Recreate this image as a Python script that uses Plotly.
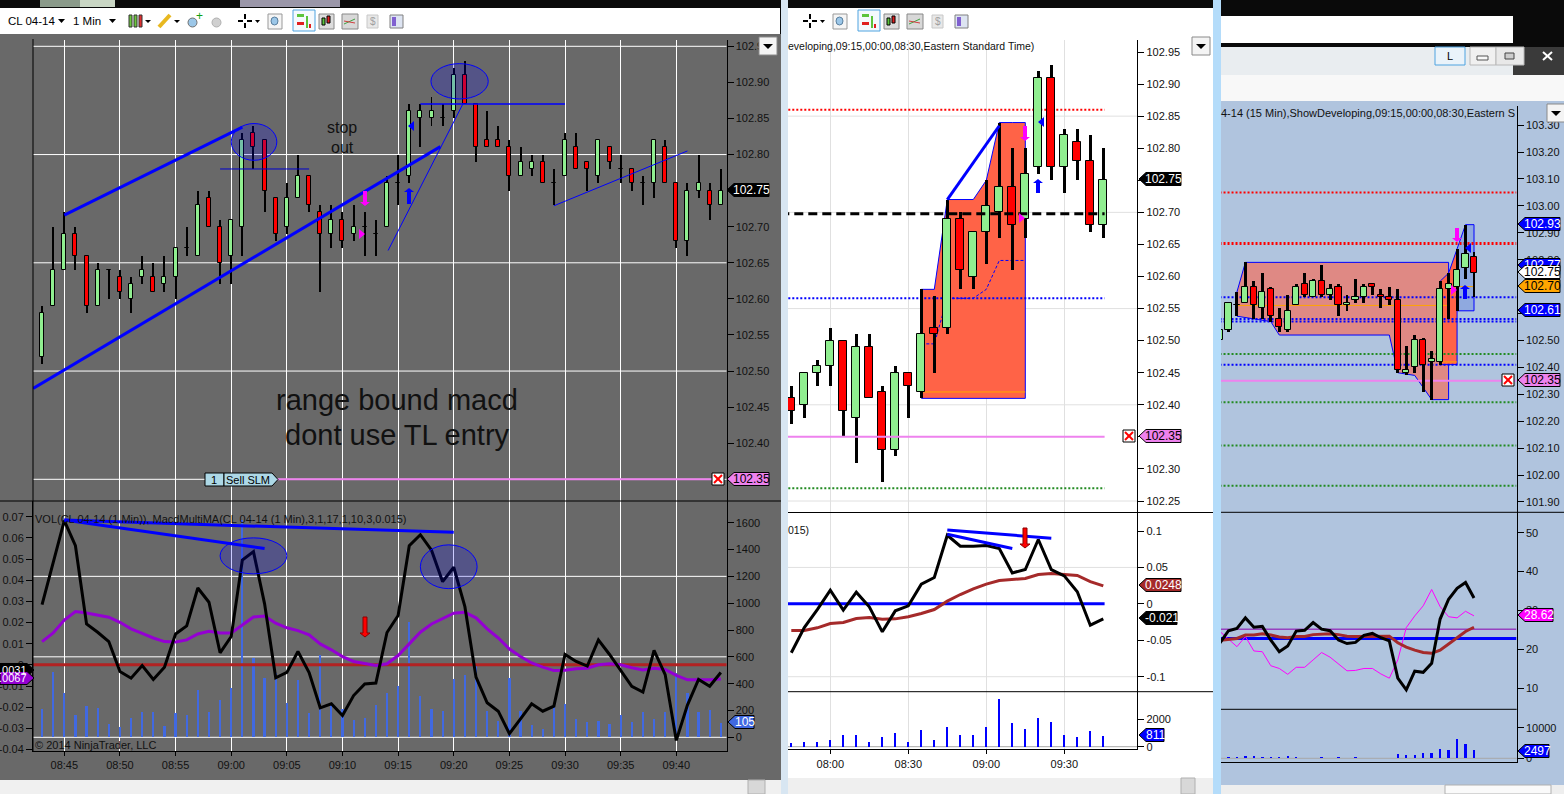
import plotly.graph_objects as go

W = 1564
H = 794
FONT = "Liberation Sans"

# left chart, 1 min bars from 08:43
left_minutes = list(range(523, 585))
left_open = [102.52, 102.59, 102.64, 102.69, 102.66, 102.59, 102.64, 102.63, 102.60, 102.63, 102.63, 102.62, 102.63, 102.67, 102.66, 102.74,
             102.70, 102.66, 102.70, 102.83, 102.82, 102.74, 102.70, 102.74, 102.77, 102.72, 102.69, 102.71, 102.69, 102.70, 102.69, 102.70,
             102.76, 102.77, 102.85, 102.85, 102.85, 102.86, 102.91, 102.87, 102.82, 102.82, 102.81, 102.77, 102.78, 102.79, 102.76, 102.77,
             102.81, 102.79, 102.77, 102.81, 102.78, 102.78, 102.76, 102.76, 102.81, 102.76, 102.68, 102.75, 102.75, 102.73]
left_high = [102.59, 102.70, 102.72, 102.70, 102.66, 102.65, 102.64, 102.64, 102.63, 102.66, 102.65, 102.66, 102.67, 102.70, 102.75, 102.75,
             102.71, 102.71, 102.83, 102.84, 102.82, 102.74, 102.76, 102.80, 102.77, 102.73, 102.73, 102.72, 102.73, 102.72, 102.71, 102.77,
             102.80, 102.87, 102.87, 102.88, 102.87, 102.92, 102.93, 102.87, 102.86, 102.84, 102.82, 102.81, 102.80, 102.80, 102.78, 102.83,
             102.83, 102.79, 102.82, 102.81, 102.80, 102.78, 102.77, 102.82, 102.82, 102.76, 102.76, 102.80, 102.76, 102.78]
left_low = [102.51, 102.59, 102.64, 102.64, 102.58, 102.59, 102.60, 102.60, 102.58, 102.62, 102.61, 102.61, 102.60, 102.66, 102.66, 102.70,
            102.62, 102.62, 102.66, 102.78, 102.72, 102.68, 102.69, 102.74, 102.72, 102.61, 102.67, 102.67, 102.68, 102.66, 102.66, 102.70,
            102.73, 102.76, 102.81, 102.84, 102.84, 102.85, 102.87, 102.79, 102.81, 102.81, 102.75, 102.77, 102.77, 102.76, 102.73, 102.77,
            102.78, 102.75, 102.76, 102.78, 102.76, 102.75, 102.73, 102.74, 102.76, 102.67, 102.66, 102.74, 102.71, 102.73]
left_close = [102.58, 102.64, 102.69, 102.66, 102.59, 102.64, 102.64, 102.61, 102.62, 102.64, 102.61, 102.63, 102.67, 102.67, 102.73, 102.70,
              102.65, 102.71, 102.82, 102.81, 102.75, 102.69, 102.74, 102.77, 102.73, 102.69, 102.71, 102.68, 102.70, 102.70, 102.69, 102.76,
              102.76, 102.86, 102.86, 102.86, 102.85, 102.91, 102.87, 102.81, 102.81, 102.81, 102.77, 102.79, 102.79, 102.76, 102.76, 102.82,
              102.78, 102.78, 102.82, 102.79, 102.78, 102.76, 102.76, 102.82, 102.76, 102.68, 102.75, 102.76, 102.73, 102.75]
left_volume = [209, 489, 328, 166, 233, 219, 99, 75, 142, 191, 191, 84, 179, 164, 353, 191, 278, 365, 1620, 594, 442, 477, 253, 427, 179, 611,
               253, 209, 129, 142, 241, 328, 383, 862, 308, 209, 199, 432, 462, 534, 199, 119, 442, 199, 89, 60, 224, 248, 134, 114, 119, 99,
               164, 114, 189, 134, 189, 477, 328, 189, 204, 105]
left_macd = [0.0285, 0.0484, 0.0681, 0.0563, 0.0193, 0.0154, 0.011, -0.0031, -0.0063, -0.0003, -0.0069, -0.0011, 0.0146, 0.0184, 0.0363, 0.0296,
             0.0057, 0.0134, 0.0495, 0.0535, 0.0288, -0.0061, -0.0036, 0.0063, -0.0036, -0.0203, -0.0184, -0.0239, -0.0145, -0.009, -0.0086,
             0.0153, 0.0233, 0.0563, 0.0615, 0.0542, 0.0393, 0.0461, 0.0275, -0.0058, -0.0179, -0.0219, -0.0325, -0.0255, -0.0184, -0.0219,
             -0.0195, 0.0049, 0.0016, -0.0006, 0.0118, 0.0049, -0.0027, -0.0102, -0.0129, 0.0068, -0.0046, -0.0357, -0.019, -0.0069, -0.0101, -0.0036]
left_signal = [0.011, 0.0151, 0.0212, 0.0252, 0.0245, 0.0236, 0.0225, 0.0201, 0.017, 0.0149, 0.0127, 0.011, 0.0108, 0.0118, 0.0146, 0.0159,
               0.0151, 0.0151, 0.019, 0.0226, 0.0231, 0.0197, 0.0175, 0.0162, 0.0142, 0.0099, 0.0071, 0.0039, 0.0016, 0.0006, -0.0003, 0.0005,
               0.0044, 0.0099, 0.0154, 0.0193, 0.0217, 0.0244, 0.0248, 0.0222, 0.017, 0.0127, 0.0075, 0.0039, 0.0009, -0.0011, -0.0027, -0.0025,
               -0.0019, -0.0016, 0.0, 0.0005, 0.0, -0.0014, -0.0024, -0.0016, -0.0022, -0.005, -0.0071, -0.0071, -0.0071, -0.0067]
left_time_ticks = [525, 530, 535, 540, 545, 550, 555, 560, 565, 570, 575, 580]
left_time_labels = ["08:45", "08:50", "08:55", "09:00", "09:05", "09:10", "09:15", "09:20", "09:25", "09:30", "09:35", "09:40"]
left_price_ticks = [102.95, 102.90, 102.85, 102.80, 102.75, 102.70, 102.65, 102.60, 102.55, 102.50, 102.45, 102.40, 102.35]
left_price_labels = ["102.95", "102.90", "102.85", "102.80", "102.75", "102.70", "102.65", "102.60", "102.55", "102.50", "102.45", "102.40", "102.35"]
left_price_grid = [102.95, 102.80, 102.65, 102.50, 102.35]
left_volume_ticks = [0, 200, 400, 600, 800, 1000, 1200, 1400, 1600]
left_volume_grid = [0, 600, 1200]
left_macd_ticks = [0.07, 0.06, 0.05, 0.04, 0.03, 0.02, 0.01, 0, -0.01, -0.02, -0.03, -0.04]
left_macd_labels = ["0.07", "0.06", "0.05", "0.04", "0.03", "0.02", "0.01", "0", "-0.01", "-0.02", "-0.03", "-0.04"]

# middle chart, 5 min bars from 07:45
mid_minutes = list(range(465, 590, 5))
mid_open = [102.41, 102.40, 102.45, 102.46, 102.50, 102.38, 102.49, 102.42, 102.33, 102.45, 102.42, 102.52, 102.52, 102.69, 102.60, 102.67,
            102.70, 102.74, 102.69, 102.77, 102.91, 102.77, 102.81, 102.78, 102.68]
mid_high = [102.43, 102.45, 102.47, 102.52, 102.50, 102.51, 102.51, 102.43, 102.46, 102.45, 102.58, 102.57, 102.72, 102.70, 102.67, 102.75,
            102.84, 102.80, 102.80, 102.92, 102.93, 102.83, 102.83, 102.82, 102.80]
mid_low = [102.37, 102.38, 102.43, 102.43, 102.35, 102.31, 102.41, 102.28, 102.32, 102.38, 102.41, 102.45, 102.51, 102.58, 102.58, 102.62,
           102.66, 102.61, 102.66, 102.76, 102.75, 102.73, 102.75, 102.67, 102.66]
mid_close = [102.39, 102.45, 102.46, 102.50, 102.39, 102.49, 102.41, 102.33, 102.45, 102.43, 102.51, 102.51, 102.69, 102.61, 102.67, 102.71,
             102.74, 102.68, 102.76, 102.91, 102.77, 102.82, 102.78, 102.68, 102.75]
mid_macd = [-0.0672, -0.0325, -0.0078, 0.0188, -0.0087, 0.016, -0.0041, -0.0384, -0.0096, -0.0027, 0.027, 0.0361, 0.0942, 0.0791, 0.0791, 0.08,
            0.0759, 0.0425, 0.0471, 0.0883, 0.0471, 0.0384, 0.0165, -0.0293, -0.0206]
mid_signal = [-0.0366, -0.0366, -0.0329, -0.027, -0.0256, -0.0201, -0.0188, -0.021, -0.0206, -0.0178, -0.0133, -0.0078, 0.0037, 0.0128, 0.0206,
              0.027, 0.032, 0.0334, 0.0348, 0.0403, 0.0416, 0.0403, 0.0389, 0.0306, 0.0247]
mid_volume = [265, 337, 337, 482, 843, 843, 337, 699, 988, 337, 1205, 482, 1422, 843, 843, 1422, 3446, 1711, 1277, 2072, 1783, 843, 699, 1133, 811]
mid_time_ticks = [480, 510, 540, 570]
mid_time_labels = ["08:00", "08:30", "09:00", "09:30"]
mid_price_ticks = [102.95, 102.90, 102.85, 102.80, 102.75, 102.70, 102.65, 102.60, 102.55, 102.50, 102.45, 102.40, 102.35, 102.30, 102.25]
mid_price_labels = ["102.95", "102.90", "102.85", "102.80", "102.75", "102.70", "102.65", "102.60", "102.55", "102.50", "102.45", "102.40", "102.35", "102.30", "102.25"]
mid_price_grid = [102.85, 102.70, 102.55, 102.40, 102.25]
mid_macd_ticks = [0.1, 0.05, 0, -0.05, -0.1]
mid_macd_labels = ["0.1", "0.05", "0", "-0.05", "-0.1"]
mid_macd_grid = [0.05, -0.1]
# developing value area
mid_va_x = [515, 520, 525, 530, 535, 540, 545, 550, 555, 555, 515]
mid_va_y = [102.58, 102.58, 102.72, 102.72, 102.72, 102.75, 102.84, 102.84, 102.84, 102.41, 102.41]
mid_poc_x = [515, 520, 525, 530, 535, 540, 545, 555]
mid_poc_y = [102.495, 102.495, 102.566, 102.566, 102.566, 102.58, 102.625, 102.625]

# right chart, 15 min bars
right_index = list(range(31))
right_open = [102.50, 102.54, 102.63, 102.64, 102.70, 102.62, 102.69, 102.58, 102.54, 102.63, 102.71, 102.66, 102.72, 102.67, 102.70, 102.63,
              102.65, 102.66, 102.71, 102.67, 102.66, 102.65, 102.38, 102.40, 102.50, 102.42, 102.42, 102.69, 102.70, 102.77, 102.81]
right_high = [102.56, 102.64, 102.68, 102.79, 102.72, 102.75, 102.70, 102.62, 102.67, 102.71, 102.75, 102.73, 102.78, 102.71, 102.71, 102.67,
              102.73, 102.71, 102.71, 102.69, 102.70, 102.69, 102.48, 102.52, 102.51, 102.46, 102.72, 102.75, 102.84, 102.93, 102.83]
right_low = [102.49, 102.53, 102.59, 102.64, 102.58, 102.58, 102.57, 102.53, 102.53, 102.63, 102.66, 102.66, 102.66, 102.65, 102.59, 102.61,
             102.64, 102.64, 102.67, 102.62, 102.63, 102.38, 102.37, 102.38, 102.31, 102.28, 102.41, 102.58, 102.61, 102.73, 102.66]
right_close = [102.54, 102.64, 102.63, 102.70, 102.63, 102.68, 102.59, 102.55, 102.61, 102.70, 102.67, 102.72, 102.67, 102.69, 102.63, 102.64,
               102.66, 102.70, 102.70, 102.66, 102.65, 102.39, 102.39, 102.50, 102.41, 102.43, 102.69, 102.71, 102.76, 102.82, 102.75]
right_macd = [21.7, 24.8, 25.4, 28.1, 25.7, 25.9, 22.4, 19.4, 20.9, 24.7, 24.9, 26.9, 25.2, 24.8, 22.4, 21.5, 21.8, 23.6, 24.1, 23.0, 22.2,
              12.6, 9.6, 14.4, 14.1, 16.4, 27.8, 32.9, 35.7, 37.2, 33.2]
right_signal = [22.3, 22.6, 22.8, 23.7, 23.7, 24.0, 23.7, 23.2, 23.0, 23.3, 23.3, 23.8, 23.9, 24.0, 23.8, 23.4, 23.3, 23.3, 23.3, 23.4, 23.4,
                21.7, 20.6, 19.8, 19.2, 19.0, 19.8, 21.4, 22.9, 24.6, 25.7]
right_thin = [24.6, 22.6, 20.7, 23.3, 19.6, 19.4, 15.8, 15.1, 13.6, 15.4, 15.4, 17.3, 19.2, 18.0, 16.2, 14.5, 14.6, 15.1, 15.1, 13.7, 12.6,
              17.3, 25.6, 28.6, 31.2, 35.4, 31.0, 28.4, 28.1, 29.8, 28.62]
right_volume = [0, 326, 326, 650, 650, 326, 326, 326, 650, 326, 0, 0, 326, 0, 326, 0, 326, 0, 0, 0, 0, 1413, 1087, 1087, 1739, 1739, 3043,
                2717, 6196, 4674, 2497]
right_price_ticks = [103.30, 103.20, 103.10, 103.00, 102.90, 102.80, 102.60, 102.50, 102.40, 102.30, 102.20, 102.10, 102.00, 101.90]
right_price_labels = ["103.30", "103.20", "103.10", "103.00", "102.90", "102.80", "102.60", "102.50", "102.40", "102.30", "102.20", "102.10", "102.00", "101.90"]
right_macd_ticks = [50, 40, 30, 20, 10]
right_va1_x = [2, 3, 27, 27, 25, 23, 21, 20, 7, 6, 4, 2]
right_va1_y = [102.68, 102.79, 102.79, 102.28, 102.28, 102.37, 102.38, 102.52, 102.52, 102.57, 102.58, 102.59]
right_va2_x = [26, 27, 28, 28, 26]
right_va2_y = [102.72, 102.75, 102.84, 102.41, 102.41]
right_va3_x = [28, 29, 30, 30, 28]
right_va3_y = [102.84, 102.93, 102.93, 102.61, 102.61]

BLUE = "#0000FF"
DIM = "#696969"
STEEL = "#B0C4DE"
GREEN = "#90EE90"
VIOLET = "#EE82EE"
TOMATO = "#FF6347"
BROWN = "#A52A2A"
TXT = "#111111"


def px(x):
    return x / W


def py(y):
    return 1 - y / H


def rng(a0, a1, v0, p0, v1, p1):
    # axis range so that value v0 lands on pixel p0 and v1 on p1
    k = (v1 - v0) / (p1 - p0)
    return [v0 + (a0 - p0) * k, v0 + (a1 - p0) * k]


shapes = []
notes = []


def rect(x0, y0, x1, y1, fill, line=None, layer="below"):
    shapes.append(dict(type="rect", xref="paper", yref="paper", x0=px(x0), x1=px(x1), y0=py(y1), y1=py(y0),
                       fillcolor=fill, line=dict(color=line or fill, width=1 if line else 0), layer=layer))


def poly(points, fill, line=None, width=1, layer="above"):
    path = "M" + " L".join(f"{px(a):.5f},{py(b):.5f}" for a, b in points) + " Z"
    shapes.append(dict(type="path", xref="paper", yref="paper", path=path, fillcolor=fill,
                       line=dict(color=line or fill, width=width if line else 0), layer=layer))


def seg(x0, y0, x1, y1, color="black", width=1, layer="above"):
    shapes.append(dict(type="line", xref="paper", yref="paper", x0=px(x0), x1=px(x1), y0=py(y0), y1=py(y1),
                       line=dict(color=color, width=width), layer=layer))


def label(x, y, text, size=11, color=TXT, anchor="left"):
    notes.append(dict(xref="paper", yref="paper", x=px(x), y=py(y), text=text, showarrow=False, xanchor=anchor,
                      yanchor="middle", font=dict(family=FONT, size=size, color=color), borderpad=0, borderwidth=0))


def tag(x0, x1, yc, text, fill, color="white", line="black", size=12, point="left"):
    h = 6.5
    if point == "left":
        pts = [(x0, yc), (x0 + 7, yc - h), (x1, yc - h), (x1, yc + h), (x0 + 7, yc + h)]
        mid = (x0 + 7 + x1) / 2
    else:
        pts = [(x0, yc - h), (x1 - 7, yc - h), (x1, yc), (x1 - 7, yc + h), (x0, yc + h)]
        mid = (x0 + x1 - 7) / 2
    poly(pts, fill, line, 1)
    label(mid, yc, text, size, color, "center")


def arrow(x, y0, y1, color, line=None):
    # block arrow running from y0 (tail) to y1 (head)
    s = 1 if y1 > y0 else -1
    poly([(x - 2, y0), (x + 2, y0), (x + 2, y1 - 4 * s), (x + 5, y1 - 4 * s), (x, y1), (x - 5, y1 - 4 * s), (x - 2, y1 - 4 * s)], color, line)


def tri(x, y, color, way):
    poly([(x + 3 * way, y), (x - 3 * way, y - 5), (x - 3 * way, y + 5)], color)


def x_box(x, y):
    rect(x - 6, y - 6, x + 6, y + 6, "white", "black", "above")
    seg(x - 4, y - 4, x + 4, y + 4, "red", 2)
    seg(x - 4, y + 4, x + 4, y - 4, "red", 2)


def dropdown(x, y):
    rect(x - 9, y - 9, x + 9, y + 9, "#F4F4F4", "#8A8A8A", "above")
    poly([(x - 5, y - 2), (x + 5, y - 2), (x, y + 3)], "black")


def toolbar(dx):
    # crosshair, zoom box and the chart style buttons
    seg(dx + 238, 21, dx + 243, 21, width=2)
    seg(dx + 247, 21, dx + 252, 21, width=2)
    seg(dx + 245, 14, dx + 245, 19, width=2)
    seg(dx + 245, 23, dx + 245, 28, width=2)
    poly([(dx + 255, 20), (dx + 260, 20), (dx + 257.5, 23)], "black")
    rect(dx + 268, 14, dx + 282, 29, "#F5F5F5", "#999999", "above")
    shapes.append(dict(type="circle", xref="paper", yref="paper", x0=px(dx + 271), x1=px(dx + 278), y0=py(25), y1=py(17),
                       fillcolor="#9CC7E8", line=dict(color="#5A7F9E", width=1)))
    rect(dx + 293, 10, dx + 315, 31, "#F4F9FD", "#4FA3E0", "above")
    rect(dx + 297, 14, dx + 304, 17, "#5CC43C", None, "above")
    rect(dx + 297, 22, dx + 304, 25, "#E02020", None, "above")
    rect(dx + 306, 16, dx + 308, 28, "#5CC43C", None, "above")
    rect(dx + 309, 24, dx + 311, 28, "#E02020", None, "above")
    rect(dx + 319, 14, dx + 334, 29, "#DDDDDD", "#888888", "above")
    rect(dx + 322, 18, dx + 325, 25, "#5CC43C", "black", "above")
    rect(dx + 327, 16, dx + 330, 23, "#E02020", "black", "above")
    rect(dx + 342, 14, dx + 358, 29, "#D8D8D8", "#888888", "above")
    seg(dx + 344, 24, dx + 355, 19, "#3FA040")
    seg(dx + 344, 21, dx + 355, 23, "#D04040")
    rect(dx + 367, 15, dx + 378, 28, "#E8E8E8", "#C8C8C8", "above")
    label(dx + 372.5, 21.5, "$", 10, "#A0A0A0", "center")
    rect(dx + 390, 15, dx + 403, 28, "#DDE4F2", "#808080", "above")
    rect(dx + 392, 17, dx + 396, 26, "#8060D0", None, "above")


fig = go.Figure()


def candles(xs, o, h, l, c, xa, ya, body, wick):
    # wicks as thin bars so they stay under the bodies
    span = [b - a for a, b in zip(l, h)]
    fig.add_trace(go.Bar(x=xs, y=span, base=l, width=wick, marker=dict(color="black", line=dict(width=0)), xaxis=xa, yaxis=ya))
    base = [min(a, b) for a, b in zip(o, c)]
    size = [abs(a - b) for a, b in zip(o, c)]
    colors = [GREEN if b > a else ("red" if b < a else "black") for a, b in zip(o, c)]
    fig.add_trace(go.Bar(x=xs, y=size, base=base, width=body, marker=dict(color=colors, line=dict(color="black", width=1)), xaxis=xa, yaxis=ya))


def line(xs, ys, xa, ya, color, width=3, dash="solid"):
    fig.add_trace(go.Scatter(x=xs, y=ys, mode="lines", line=dict(color=color, width=width, dash=dash), xaxis=xa, yaxis=ya, hoverinfo="skip"))


def level(xs, value, xa, ya, color, width=2, dash="2px,2px"):
    line([xs[0], xs[1]], [value, value], xa, ya, color, width, dash)


def area(xs, ys, xa, ya, fill, edge=BLUE):
    fig.add_trace(go.Scatter(x=xs, y=ys, mode="lines", fill="toself", fillcolor=fill, line=dict(color=edge, width=1), xaxis=xa, yaxis=ya, hoverinfo="skip"))


def volume(xs, ys, xa, ya, color, width):
    fig.add_trace(go.Bar(x=xs, y=ys, width=width, marker=dict(color=color, line=dict(width=0)), xaxis=xa, yaxis=ya))


def grid(values, xa, ya, color):
    for v in values:
        shapes.append(dict(type="line", xref=xa + " domain", yref=ya, x0=0, x1=1, y0=v, y1=v, line=dict(color=color, width=1), layer="below"))


def ellipse(x0, x1, y0, y1, xa, ya):
    shapes.append(dict(type="circle", xref=xa, yref=ya, x0=x0, x1=x1, y0=y0, y1=y1, fillcolor="rgba(0,0,255,0.2)", line=dict(color=BLUE, width=1), layer="above"))


# window chrome, bottom to top
rect(0, 0, W, H, "#0A0A0A")
rect(0, 8, 780, 34, "white")
rect(788, 8, 1213, 40, "white")
rect(0, 34, 781, 780, DIM)
rect(0, 780, 781, H, "#F0F0F0")
rect(788, 40, 1213, 778, "white")
rect(788, 778, 1213, H, "#EFEFEF")
rect(781, 0, 788, H, "#D8E6F2")
rect(1213, 0, 1221, H, "#B4DCFA")
rect(1221, 16, 1513, 43, "white")
rect(1221, 47, 1513, 75, "#E9EDF0")
rect(1513, 47, W, 75, "#3A3A3A")
rect(1221, 75, W, 101, "#F8F8F8")
rect(1221, 101, W, 785, STEEL)
rect(1221, 785, W, H, "#EEEEEE")
rect(40, 0, 110, 7, "#8A9A8A")
rect(80, 0, 115, 7, "#C9D6C4")
rect(240, 0, 340, 7, "#9A96A8")
rect(748, 780, 765, H, "#D8D8D8", "#B0B0B0", "above")
rect(1181, 778, 1195, H, "#D8D8D8", "#B0B0B0", "above")
rect(1445, 785, 1551, H, "#FAFAFA", "#B0B0B0", "above")
rect(1435, 47, 1465, 65, "#EAF3FA", "#4FA3E0", "above")
label(1450, 56, "L", 11, "black", "center")
rect(1470, 47, 1496, 65, "#F0F0F0", "#B8B8B8", "above")
rect(1477, 56, 1488, 60, "#F8F8F8", "#555555", "above")
rect(1496, 47, 1524, 65, "#E8E8E8", "#B8B8B8", "above")
rect(1505, 53, 1514, 59, "#CCCCCC", "#444444", "above")
seg(1543, 52, 1552, 60, "white", 2)
seg(1543, 60, 1552, 52, "white", 2)

# left toolbar
label(8, 21, "CL 04-14", 11.5, "black")
poly([(58, 19), (65, 19), (61.5, 23)], "black")
label(73, 21, "1 Min", 11.5, "black")
poly([(109, 19), (116, 19), (112.5, 23)], "black")
rect(129, 15, 132, 27, "#6CC83C", "#333333", "above")
rect(134, 15, 137, 27, "#6CC83C", "#333333", "above")
rect(139, 15, 142, 27, "#E03030", "#333333", "above")
poly([(145, 20), (151, 20), (148, 23)], "black")
seg(159, 27, 170, 15, "#E8B820", 4)
poly([(174, 20), (180, 20), (177, 23)], "black")
shapes.append(dict(type="circle", xref="paper", yref="paper", x0=px(188), x1=px(197), y0=py(27), y1=py(18), fillcolor="#9CC7E8", line=dict(color="#707070", width=1)))
label(199, 16, "+", 12, "#10A010", "center")
shapes.append(dict(type="circle", xref="paper", yref="paper", x0=px(212), x1=px(221), y0=py(27), y1=py(18), fillcolor="#D0D0D0", line=dict(color="#B0B0B0", width=1)))
toolbar(0)
toolbar(565)

# left price panel
grid(left_price_grid, "x", "y", "white")
candles(left_minutes, left_open, left_high, left_low, left_close, "x", "y", 0.36, 0.09)
line([525, 541], [102.716, 102.838], "x", "y", BLUE, 3)
line([522.2, 558.8], [102.476, 102.811], "x", "y", BLUE, 3)
line([554.1, 558.9, 560.85], [102.667, 102.811, 102.871], "x", "y", BLUE, 1)
line([557, 570], [102.87, 102.87], "x", "y", BLUE, 1.5)
line([569, 581], [102.729, 102.805], "x", "y", BLUE, 1)
line([539, 547], [102.78, 102.78], "x", "y", "#0000CD", 1)
line([544.1, 584], [102.35, 102.35], "x", "y", VIOLET, 2)
ellipse(540, 544.1, 102.792, 102.843, "x", "y")
ellipse(557.95, 563.1, 102.877, 102.926, "x", "y")

# left indicator panel, volume below the macd lines
grid(left_volume_grid, "x2", "y2", "white")
volume(left_minutes, left_volume, "x2", "y2", "#4169E1", 0.2)
line([522.2, 584.6], [0, 0], "x2", "y3", "#B22222", 3)
line(left_minutes, left_signal, "x2", "y3", "#9400D3", 3)
line(left_minutes, left_macd, "x2", "y3", "black", 3)
line([525, 543], [0.0684, 0.055], "x2", "y3", BLUE, 3)
line([525, 560], [0.0684, 0.0626], "x2", "y3", BLUE, 3)
ellipse(539, 545, 0.043, 0.06, "x2", "y3")
ellipse(557, 562.1, 0.036, 0.0567, "x2", "y3")

# middle price panel: fills at the base, bars on y10, top lines on y11
grid(mid_price_grid, "x3", "y4", "#E0E0E0")
area(mid_va_x, mid_va_y, "x3", "y4", TOMATO)
line(mid_poc_x, mid_poc_y, "x3", "y4", BLUE, 1, "3px,2px")
line([515, 555], [102.42, 102.42], "x3", "y4", "#FFA500", 1)
level([450, 585.5], 102.86, "x3", "y4", "red")
level([450, 585.5], 102.566, "x3", "y4", BLUE)
level([450, 585.5], 102.27, "x3", "y4", "#228B22")
candles(mid_minutes, mid_open, mid_high, mid_low, mid_close, "x3", "y10", 3.0, 1.15)
line([450, 585.5], [102.698, 102.698], "x3", "y11", "black", 3, "9px,5px")
line([450, 585.5], [102.35, 102.35], "x3", "y11", VIOLET, 2)
line([525, 545], [102.72, 102.835], "x3", "y11", BLUE, 3)

# middle indicator panels
grid(mid_macd_grid, "x4", "y5", "#E0E0E0")
line([450, 585.5], [0, 0], "x4", "y5", BLUE, 3)
line(mid_minutes, mid_signal, "x4", "y5", BROWN, 3)
line(mid_minutes, mid_macd, "x4", "y5", "black", 3)
line([525, 550], [0.0955, 0.076], "x4", "y5", BLUE, 3)
line([525, 565], [0.1015, 0.09], "x4", "y5", BLUE, 3)
grid([0], "x5", "y6", "#A8A8A8")
volume(mid_minutes, mid_volume, "x5", "y6", BLUE, 0.8)

# right price panel, bars on y12
area(right_va1_x, right_va1_y, "x6", "y7", "rgba(255,99,71,0.6)")
area(right_va2_x, right_va2_y, "x6", "y7", TOMATO)
area(right_va3_x, right_va3_y, "x6", "y7", "rgba(65,105,225,0.3)")
line([2, 27], [102.63, 102.63], "x6", "y7", "#FFA500", 1)
line([26, 28], [102.42, 102.42], "x6", "y7", "#FFA500", 1)
line([28, 30], [102.70, 102.70], "x6", "y7", "#FFA500", 1)
level([-1, 35], 103.05, "x6", "y7", "red")
level([-1, 35], 102.86, "x6", "y7", "red", 3)
level([-1, 35], 102.66, "x6", "y7", BLUE)
level([-1, 35], 102.58, "x6", "y7", BLUE)
level([-1, 35], 102.57, "x6", "y7", BLUE)
level([-1, 35], 102.45, "x6", "y7", "#228B22")
level([-1, 35], 102.41, "x6", "y7", BLUE)
level([-1, 35], 102.27, "x6", "y7", "#228B22")
level([-1, 35], 102.11, "x6", "y7", "#228B22")
level([-1, 35], 101.96, "x6", "y7", "#228B22")
line([-1, 35], [102.35, 102.35], "x6", "y7", VIOLET, 2)
candles(right_index, right_open, right_high, right_low, right_close, "x6", "y12", 0.72, 0.35)

# right indicator panels
line([-1, 35], [22.8, 22.8], "x7", "y8", BLUE, 3)
line([-1, 35], [25.2, 25.2], "x7", "y8", "#8B00B0", 1)
line(right_index, right_thin, "x7", "y8", "#FF00FF", 1)
line(right_index, right_signal, "x7", "y8", BROWN, 3)
line(right_index, right_macd, "x7", "y8", "black", 3)
grid([0], "x8", "y9", "#A8A8A8")
volume(right_index, right_volume, "x8", "y9", BLUE, 0.28)

# panel frames
seg(0, 501, 781, 501, width=1)
seg(33, 39, 33, 751)
seg(788, 512.5, 1213, 512.5)
seg(788, 691.7, 1213, 691.7)
seg(1221, 512.3, 1564, 512.3)
seg(1221, 709.3, 1516.7, 709.3)

# texts
label(342, 128, "stop", 16, "#111111", "center")
label(342, 147, "out", 16, "#111111", "center")
label(397, 400, "range bound macd", 29, "#111111", "center")
label(397, 435, "dont use TL entry", 29, "#111111", "center")
label(35, 519, "VOL(CL 04-14 (1 Min)), MacdMultiMA(CL 04-14 (1 Min),3,1,17,1,10,3,0.015)", 11)
label(35, 745, "© 2014 NinjaTrader, LLC", 11)
label(788, 46, "eveloping,09:15,00:00,08:30,Eastern Standard Time)", 10.5)
label(788, 530, "015)", 10.5)
label(1221, 113, "4-14 (15 Min),ShowDeveloping,09:15,00:00,08:30,Eastern S", 11)

# order tag on the left chart
rect(205, 473, 224, 486, "#ADD8E6", "black", "above")
poly([(224, 473), (272, 473), (278, 479.5), (272, 486), (224, 486)], "#ADD8E6", "black")
label(214.5, 480, "1", 11, "black", "center")
label(226, 480, "Sell SLM", 11, "black")

# arrows and markers
arrow(365, 191, 206, "#FF00FF")
tri(362, 234, "#FF00FF", 1)
arrow(409, 204, 188, BLUE)
tri(411, 126, BLUE, -1)
arrow(365, 617, 637, "red", "#8B0000")
arrow(1025, 126, 141, "#FF00FF")
tri(1022, 218, "#FF00FF", 1)
arrow(1038, 193, 179, BLUE)
tri(1041, 122, BLUE, -1)
arrow(1025, 528, 548, "red", "#8B0000")
arrow(1457, 228, 242, "#FF00FF")
tri(1454, 290, "#FF00FF", 1)
arrow(1465, 299, 285, BLUE)
tri(1468, 248, BLUE, -1)

x_box(718, 479)
x_box(1129, 436)
x_box(1508, 380)
dropdown(768, 46)
dropdown(1201, 46)
dropdown(1556, 113)

# price tags
tag(727, 769, 190, "102.75", "black")
tag(727, 769, 479, "102.35", VIOLET, "black")
tag(0, 34, 670, ".0031", "black", size=11, point="right")
tag(0, 34, 678, ".0067", "#9400D3", size=11, point="right")
tag(728, 754, 722, "105", "#4169E1")
tag(1139, 1181, 179, "102.75", "black")
tag(1139, 1181, 436, "102.35", VIOLET, "black")
tag(1139, 1181, 585, "0.0248", BROWN)
tag(1139, 1177, 618, "-0.021", "black")
tag(1139, 1164, 735, "811", BLUE)
tag(1518, 1560, 224, "102.93", BLUE)
tag(1518, 1560, 265, "102.77", BLUE)
tag(1518, 1560, 272, "102.75", "white", "black")
tag(1518, 1560, 286, "102.70", "#FFA500", "black")
tag(1518, 1560, 310, "102.61", BLUE)
tag(1518, 1560, 380, "102.35", VIOLET, "black")
tag(1518, 1553, 615, "28.62", "#FF00FF")
tag(1518, 1549, 751, "2497", BLUE)

tick_font = dict(family=FONT, size=11, color=TXT)


def x_axis(a0, a1, vals, texts, r, y, labels=False, color="white", show_grid=True):
    return dict(domain=[px(a0), px(a1)], range=r, anchor=y, tickmode="array", tickvals=vals, ticktext=texts,
                showticklabels=labels, ticks="outside" if labels else "", ticklen=4, tickcolor="black", tickfont=tick_font,
                showgrid=show_grid, gridcolor=color, gridwidth=1, zeroline=False, showline=labels, linecolor="black", fixedrange=True)


def y_axis(top, bottom, r, x, vals, texts=None, side="right", overlaying=None):
    # r comes in as [value at top pixel, value at bottom pixel], plotly wants low to high
    d = dict(domain=[py(bottom), py(top)], range=r[::-1], anchor=x, side=side, tickmode="array", tickvals=vals,
             ticks="outside", ticklen=6, tickcolor="black", tickfont=tick_font, showgrid=False, zeroline=False,
             showline=True, linecolor="black", fixedrange=True)
    if texts:
        d["ticktext"] = texts
    if overlaying:
        d["overlaying"] = overlaying
        d.pop("domain")
    return d


def hidden_y(r, x, base):
    return dict(range=r[::-1], anchor=x, overlaying=base, visible=False, fixedrange=True)


left_x = rng(33, 726.5, 525, 64.3, 580, 676.3)
mid_x = rng(788, 1137.3, 480, 830.3, 570, 1064.3)
right_x = rng(1221, 1516.7, 0, 1220, 30, 1474)
mid_y = rng(40, 512.5, 102.95, 52, 102.25, 501)
right_y = rng(106, 512.3, 103.20, 152, 102.00, 475)

fig.update_layout(
    width=W, height=H, margin=dict(l=0, r=0, t=0, b=0, pad=0, autoexpand=False), paper_bgcolor="#0A0A0A", plot_bgcolor="rgba(0,0,0,0)",
    showlegend=False, barmode="overlay", bargap=0, font=dict(family=FONT), shapes=shapes, annotations=notes, hovermode=False,
    xaxis=x_axis(33, 726.5, left_time_ticks, left_time_labels, left_x, "y"),
    yaxis=y_axis(40, 501, rng(40, 501, 102.95, 46.3, 102.35, 479.3), "x", left_price_ticks, left_price_labels),
    xaxis2=x_axis(33, 726.5, left_time_ticks, left_time_labels, left_x, "y2", True),
    yaxis2=y_axis(501, 751, rng(501, 751, 1600, 522.7, 0, 737.3), "x2", left_volume_ticks),
    yaxis3=y_axis(501, 751, rng(501, 751, 0.07, 516.7, -0.04, 749.5), "x2", left_macd_ticks, left_macd_labels, "left", "y2"),
    xaxis3=x_axis(788, 1137.3, mid_time_ticks, mid_time_labels, mid_x, "y4", color="#E0E0E0"),
    yaxis4=y_axis(40, 512.5, mid_y, "x3", mid_price_ticks, mid_price_labels),
    yaxis10=hidden_y(mid_y, "x3", "y4"),
    yaxis11=hidden_y(mid_y, "x3", "y4"),
    xaxis4=x_axis(788, 1137.3, mid_time_ticks, mid_time_labels, mid_x, "y5", color="#E0E0E0"),
    yaxis5=y_axis(512.5, 691.7, rng(512.5, 691.7, 0.1, 531, -0.1, 676.7), "x4", mid_macd_ticks, mid_macd_labels),
    xaxis5=x_axis(788, 1137.3, mid_time_ticks, mid_time_labels, mid_x, "y6", True, color="#E0E0E0"),
    yaxis6=y_axis(691.7, 749.3, rng(691.7, 749.3, 2000, 719, 0, 746.7), "x5", [0, 2000], ["0", "2000"]),
    xaxis6=x_axis(1221, 1516.7, [], [], right_x, "y7", show_grid=False),
    yaxis7=y_axis(106, 512.3, right_y, "x6", right_price_ticks, right_price_labels),
    yaxis12=hidden_y(right_y, "x6", "y7"),
    xaxis7=x_axis(1221, 1516.7, [], [], right_x, "y8", show_grid=False),
    yaxis8=y_axis(512.3, 709.3, rng(512.3, 709.3, 50, 532.7, 10, 688.3), "x7", right_macd_ticks),
    xaxis8=dict(x_axis(1221, 1516.7, [], [], right_x, "y9", show_grid=False), showline=True),
    yaxis9=y_axis(709.3, 762.3, rng(709.3, 762.3, 10000, 727.7, 0, 758.3), "x8", [0, 10000], ["0", "10000"]),
)

fig.write_html("out.html", config=dict(displayModeBar=False), post_script="document.body.style.margin='0';document.body.style.overflow='hidden';")
